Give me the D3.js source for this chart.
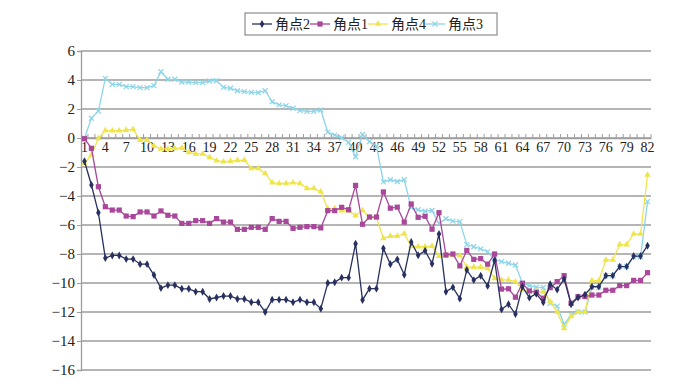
<html>
<head>
<meta charset="utf-8">
<script src="https://d3js.org/d3.v7.min.js"></script>
<style>
body { margin: 0; background: #fff; }
text { font-family: "Liberation Serif", "Noto Sans CJK SC", serif; fill: #222; }
</style>
</head>
<body>
<svg width="695" height="387"></svg>
<script>
// categories 1..82
var points = d3.range(1, 83);
var yTicks = [6, 4, 2, 0, -2, -4, -6, -8, -10, -12, -14, -16];
var seriesNames = ["角点2", "角点1", "角点4", "角点3"];

var corner2 = [-1.6, -3.24, -5.15, -8.28, -8.1, -8.1, -8.35, -8.35, -8.7, -8.7,
  -9.45, -10.35, -10.15, -10.15, -10.4, -10.4, -10.6, -10.6, -11.1, -11.0,
  -10.9, -10.9, -11.1, -11.1, -11.33, -11.33, -12.0, -11.15, -11.15, -11.15,
  -11.33, -11.15, -11.33, -11.33, -11.77, -10.0, -9.95, -9.63, -9.63, -7.29,
  -11.17, -10.39, -10.39, -7.61, -8.71, -8.37, -9.43, -7.17, -8.09, -7.77,
  -8.67, -6.62, -10.6, -10.3, -11.08, -9.1, -9.8, -9.5, -10.2, -8.43,
  -11.82, -11.47, -12.14, -10.25, -11.01, -10.74, -11.33, -10.09, -10.46, -9.72,
  -11.47, -11.0, -10.8, -10.25, -10.25, -9.49, -9.49, -8.87, -8.87, -8.14,
  -8.14, -7.43];

var corner1 = [-0.05, -0.71, -3.36, -4.74, -4.97, -4.97, -5.38, -5.42, -5.1, -5.1,
  -5.38, -5.03, -5.33, -5.38, -5.89, -5.89, -5.7, -5.7, -5.89, -5.56,
  -5.8, -5.8, -6.3, -6.3, -6.16, -6.16, -6.3, -5.56, -5.75, -5.75,
  -6.23, -6.16, -6.11, -6.11, -6.2, -5.01, -5.01, -4.78, -4.95, -3.27,
  -5.95, -5.45, -5.45, -3.72, -4.84, -4.77, -5.8, -4.55, -5.47, -5.4,
  -6.29, -5.15, -8.07, -8.0, -8.82, -7.75, -8.37, -8.32, -8.7, -8.0,
  -10.42, -10.4, -10.98, -10.02, -10.55, -10.64, -11.05, -10.32, -9.91, -9.49,
  -11.4, -10.94, -10.94, -10.83, -10.83, -10.5, -10.5, -10.18, -10.18, -9.82,
  -9.82, -9.29];

var corner4 = [-1.75, -1.17, -0.02, 0.52, 0.51, 0.51, 0.55, 0.6, -0.14, -0.14,
  -0.55, -0.75, -0.75, -0.72, -0.68, -1.0, -1.1, -1.1, -1.33, -1.56,
  -1.63, -1.6, -1.54, -1.52, -2.09, -2.09, -2.44, -3.08, -3.13, -3.13,
  -3.08, -3.13, -3.47, -3.47, -3.7, -4.88, -4.85, -5.01, -5.01, -5.35,
  -5.0, -5.47, -5.47, -6.92, -6.76, -6.76, -6.6, -7.47, -7.5, -7.5,
  -7.45, -8.15, -8.12, -8.07, -8.12, -8.9, -8.9, -8.9, -9.0, -9.68,
  -9.79, -9.79, -9.91, -10.48, -10.6, -10.6, -10.62, -11.29, -12.0, -13.13,
  -12.3, -12.0, -12.0, -9.83, -9.83, -8.41, -8.41, -7.35, -7.35, -6.62,
  -6.62, -2.55];

var corner3 = [0.0, 1.36, 1.86, 4.11, 3.7, 3.7, 3.54, 3.54, 3.47, 3.47,
  3.61, 4.57, 4.05, 4.05, 3.86, 3.86, 3.82, 3.82, 3.93, 3.95,
  3.49, 3.43, 3.26, 3.2, 3.15, 3.13, 3.26, 2.5, 2.28, 2.23,
  2.05, 1.89, 1.84, 1.84, 1.93, 0.4, 0.2, 0.02, -0.3, -1.29,
  0.24, -0.25, -0.55, -3.03, -2.88, -3.0, -2.88, -4.8, -4.95, -5.05,
  -5.0, -5.9, -5.57, -5.73, -5.77, -7.35, -7.5, -7.65, -7.84, -8.41,
  -8.53, -8.64, -8.76, -10.0, -10.19, -10.28, -10.3, -11.4, -11.6, -12.85,
  -12.2, -12.0, -12.0, -10.3, -10.3, -9.49, -9.49, -8.85, -8.85, -8.2,
  -8.2, -4.39];

var series = [
  {name: seriesNames[0], values: corner2, color: "#27305f", marker: "diamond"},
  {name: seriesNames[1], values: corner1, color: "#a9479b", marker: "square"},
  {name: seriesNames[2], values: corner4, color: "#efe54a", marker: "triangle"},
  {name: seriesNames[3], values: corner3, color: "#8dd5e8", marker: "cross"}
];

var svg = d3.select("svg");

var x = d3.scaleBand().domain(points).range([81, 651]);
var y = d3.scaleLinear().domain([-16, 6]).range([370, 51]);

// gridlines
svg.append("g")
  .selectAll("line")
  .data(yTicks)
  .enter()
  .append("line")
  .attr("x1", 81)
  .attr("x2", 651)
  .attr("y1", function(d) { return y(d); })
  .attr("y2", function(d) { return y(d); })
  .attr("stroke", "#9d9d9d")
  .attr("stroke-width", 1.3);

// y axis
var yAxis = d3.axisLeft(y)
  .tickValues(yTicks)
  .tickSize(4)
  .tickFormat(function(d) { return d < 0 ? "\u2212" + Math.abs(d) : d; });

var gy = svg.append("g")
  .attr("transform", "translate(81,0)")
  .call(yAxis);
gy.select(".domain").attr("stroke", "#9d9d9d").attr("stroke-width", 1.3);
gy.selectAll(".tick line").attr("stroke", "#9d9d9d");
gy.selectAll("text")
  .attr("font-size", 15)
  .attr("font-family", "Liberation Serif")
  .attr("fill", "#222")
  .attr("x", -6);

// x axis sits on the zero line, ticks pointing up
var xAxis = d3.axisBottom(x)
  .tickSize(0)
  .tickFormat(function(d) { return (d - 1) % 3 == 0 ? d : ""; });

var gx = svg.append("g")
  .attr("transform", "translate(0," + y(0) + ")")
  .call(xAxis);
gx.select(".domain").attr("stroke", "#9d9d9d").attr("stroke-width", 1.3);
gx.selectAll("text")
  .attr("font-size", 14)
  .attr("font-family", "Liberation Serif")
  .attr("fill", "#222")
  .attr("y", 4);

svg.append("g")
  .selectAll("line")
  .data(points)
  .enter()
  .append("line")
  .attr("x1", function(d) { return x(d) + x.bandwidth(); })
  .attr("x2", function(d) { return x(d) + x.bandwidth(); })
  .attr("y1", y(0))
  .attr("y2", y(0) - 4)
  .attr("stroke", "#9d9d9d");

var cx = function(d, i) { return x(points[i]) + x.bandwidth() / 2; };

var line = d3.line()
  .x(cx)
  .y(function(d) { return y(d); });

function drawMarker(g, type, color, px, py) {
  if (type == "diamond") {
    g.append("path")
      .attr("d", d3.symbol().type(d3.symbolDiamond).size(18)())
      .attr("transform", "translate(" + px + "," + py + ")")
      .attr("fill", color);
  } else if (type == "square") {
    g.append("rect")
      .attr("x", px - 2.6).attr("y", py - 2.6)
      .attr("width", 5.2).attr("height", 5.2)
      .attr("fill", color);
  } else if (type == "triangle") {
    g.append("path")
      .attr("d", d3.symbol().type(d3.symbolTriangle).size(18)())
      .attr("transform", "translate(" + px + "," + py + ")")
      .attr("fill", color);
  } else {
    g.append("path")
      .attr("d", "M-2.5,-2.5L2.5,2.5M-2.5,2.5L2.5,-2.5")
      .attr("transform", "translate(" + px + "," + py + ")")
      .attr("stroke", color)
      .attr("stroke-width", 1.2);
  }
}

// draw from back to front: 角点3, 角点4, 角点1, 角点2
series.slice().reverse().forEach(function(s) {
  var g = svg.append("g");
  g.append("path")
    .datum(s.values)
    .attr("d", line)
    .attr("fill", "none")
    .attr("stroke", s.color)
    .attr("stroke-width", 1.3);
  s.values.forEach(function(v, i) {
    drawMarker(g, s.marker, s.color, cx(v, i), y(v));
  });
});

// legend
var legend = svg.append("g");
legend.append("rect")
  .attr("x", 245).attr("y", 13)
  .attr("width", 252).attr("height", 22)
  .attr("fill", "#fff")
  .attr("stroke", "#777")
  .attr("stroke-width", 1);

var legendX = [252, 310, 368, 425];
series.forEach(function(s, i) {
  var lx = legendX[i];
  legend.append("line")
    .attr("x1", lx).attr("x2", lx + 20)
    .attr("y1", 24).attr("y2", 24)
    .attr("stroke", s.color)
    .attr("stroke-width", 1.3);
  drawMarker(legend, s.marker, s.color, lx + 10, 24);
  legend.append("text")
    .attr("x", lx + 23)
    .attr("y", 29)
    .attr("font-size", 14)
    .attr("font-family", "Noto Sans CJK SC")
    .text(s.name);
});
</script>
</body>
</html>
